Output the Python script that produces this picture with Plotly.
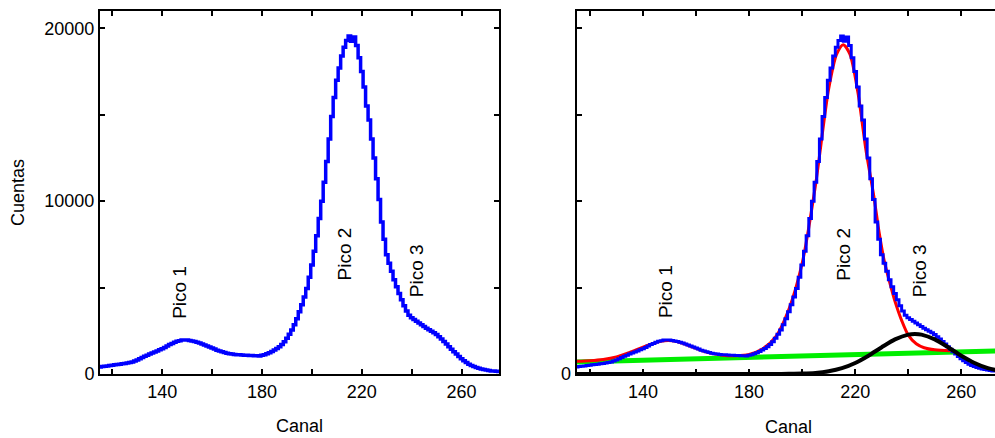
import plotly.graph_objects as go

# ---------------- data ----------------
channels = list(range(115, 276))
counts = [
    400, 430, 450, 470, 490, 510, 530, 550, 570, 590,          # 115-124
    610, 630, 660, 700, 750, 810, 880, 950, 1020, 1090,        # 125-134
    1150, 1210, 1270, 1330, 1400, 1460, 1540, 1620, 1700, 1770,  # 135-144
    1830, 1890, 1930, 1960, 1970, 1960, 1940, 1910, 1880, 1840,  # 145-154
    1790, 1740, 1680, 1620, 1560, 1500, 1440, 1380, 1330, 1280,  # 155-164
    1240, 1200, 1170, 1150, 1130, 1120, 1110, 1100, 1090, 1080,  # 165-174
    1075, 1070, 1060, 1050, 1040, 1080, 1120, 1170, 1230, 1300,  # 175-184
    1390, 1470, 1570, 1700, 1870, 2070, 2300, 2550, 2850, 3200,  # 185-194
    3600, 4000, 4450, 4950, 5600, 6300, 7100, 8000, 9000, 10000,  # 195-204
    11100, 12300, 13600, 14900, 16000, 17000, 17700, 18400, 18900, 19300,  # 205-214
    19550, 19250, 19500, 19000, 18300, 17500, 16600, 15500, 14700, 13600,  # 215-224
    12500, 11300, 10100, 8800, 7800, 6900, 6400, 5950, 5450, 5050,  # 225-234
    4650, 4300, 3950, 3650, 3400, 3250, 3150, 3050, 2950, 2850,  # 235-244
    2750, 2650, 2560, 2470, 2380, 2280, 2160, 2030, 1880, 1730,  # 245-254
    1580, 1430, 1290, 1160, 1010, 880, 760, 660, 570, 490,       # 255-264
    430, 380, 330, 290, 260, 230, 200, 180, 170, 160,            # 265-274
    150,                                                         # 275
]
assert len(counts) == len(channels)

# total fit (red)
fit_x = [115, 120, 125, 130, 135, 140, 145, 148, 151, 155, 160, 165, 170, 175, 180,
         185, 190, 195, 200, 205, 210, 213, 215.5, 218, 221, 224, 227, 229, 231, 233,
         235, 237.5, 240, 243, 246, 250, 256]
fit_y = [740, 770, 840, 990, 1250, 1560, 1830, 1930, 1930, 1780, 1480, 1220, 1090, 1060, 1130,
         1440, 2150, 3750, 6400, 10900, 16500, 18500, 19050, 18500, 16300, 13000, 10300, 8200, 6500, 5300,
         4200, 3100, 2250, 1750, 1520, 1400, 1350]

# linear background (green)
bg_x = [115, 275]
bg_y = [700, 1340]

# peak 3 (black)
p3_x = [115, 180, 190, 195, 200, 205, 210, 215, 220, 225, 230, 235, 240, 242.5,
        245, 250, 255, 260, 265, 270, 275]
p3_y = [0, 0, 5, 10, 25, 65, 160, 340, 640, 1060, 1550, 2000, 2280, 2315,
        2280, 2000, 1550, 1060, 640, 340, 160]

x_tickvals = [120, 140, 160, 180, 200, 220, 240, 260]
x_ticktext = ["", "140", "", "180", "", "220", "", "260"]
y_tickvals = [0, 5000, 10000, 15000, 20000]
y_ticktext_left = ["0", "", "10000", "", "20000"]
y_ticktext_right = ["0", "", "", "", ""]

peak_labels = ["Pico 1", "Pico 2", "Pico 3"]
left_label_x = [146.6, 213.0, 241.7]
right_label_x = [148.3, 215.3, 244.0]
label_y = [4740, 6940, 6000]

# ---------------- figure ----------------
FONT = "Liberation Sans, Arial, Helvetica, sans-serif"
W, H = 995, 438

fig = go.Figure()

# left panel
fig.add_trace(go.Scatter(x=channels, y=counts, mode="lines", line=dict(color="#0000ff", width=3.5, shape="hvh"),
                         xaxis="x", yaxis="y", showlegend=False))

# right panel
fig.add_trace(go.Scatter(x=bg_x, y=bg_y, mode="lines", line=dict(color="#00ee00", width=5),
                         xaxis="x2", yaxis="y2", showlegend=False))
fig.add_trace(go.Scatter(x=fit_x, y=fit_y, mode="lines", line=dict(color="#ff0000", width=3, shape="spline", smoothing=0.8),
                         xaxis="x2", yaxis="y2", showlegend=False))
fig.add_trace(go.Scatter(x=channels, y=counts, mode="lines", line=dict(color="#0000ff", width=3, shape="hvh"),
                         xaxis="x2", yaxis="y2", showlegend=False))
fig.add_trace(go.Scatter(x=p3_x, y=p3_y, mode="lines", line=dict(color="#000000", width=4, shape="spline", smoothing=0.8),
                         xaxis="x2", yaxis="y2", showlegend=False))

axis_common = dict(showline=True, linecolor="black", linewidth=2, ticks="inside", ticklen=5,
                   tickwidth=1.5, tickcolor="black", showgrid=False, zeroline=False,
                   tickfont=dict(family=FONT, size=18, color="black"))

fig.update_layout(
    width=W, height=H,
    margin=dict(l=0, r=0, t=11, b=64),
    paper_bgcolor="white", plot_bgcolor="white",
    xaxis=dict(domain=[100 / W, 499 / W], range=[115, 275], anchor="y", mirror="allticks",
               tickvals=x_tickvals, ticktext=x_ticktext, **axis_common),
    yaxis=dict(domain=[0, 1], range=[0, 21000], anchor="x", mirror="allticks",
               tickvals=y_tickvals, ticktext=y_ticktext_left, **axis_common),
    xaxis2=dict(domain=[576.7 / W, 1], range=[115, 272.7], anchor="y2", mirror="allticks",
                tickvals=x_tickvals, ticktext=x_ticktext, **axis_common),
    yaxis2=dict(domain=[0, 1], range=[0, 21000], anchor="x2", mirror=False,
                tickvals=y_tickvals, ticktext=y_ticktext_right, **axis_common),
)

annotations = []
for txt, xl, xr, yy in zip(peak_labels, left_label_x, right_label_x, label_y):
    annotations.append(dict(x=xl, y=yy, xref="x", yref="y", text=txt, textangle=-90, showarrow=False,
                            font=dict(family=FONT, size=19, color="black")))
    annotations.append(dict(x=xr, y=yy, xref="x2", yref="y2", text=txt, textangle=-90, showarrow=False,
                            font=dict(family=FONT, size=19, color="black")))

annotations.append(dict(x=299.5 / W, y=(374 - 426) / 363, xref="paper", yref="paper", text="Canal",
                        showarrow=False, xanchor="center", yanchor="middle",
                        font=dict(family=FONT, size=18, color="black")))
annotations.append(dict(x=788.5 / W, y=(374 - 427) / 363, xref="paper", yref="paper", text="Canal",
                        showarrow=False, xanchor="center", yanchor="middle",
                        font=dict(family=FONT, size=18, color="black")))
annotations.append(dict(x=17.5 / W, y=0.5, xref="paper", yref="paper", text="Cuentas", textangle=-90,
                        showarrow=False, xanchor="center", yanchor="middle",
                        font=dict(family=FONT, size=18, color="black")))
fig.update_layout(annotations=annotations)

fig.write_html("out.html")
